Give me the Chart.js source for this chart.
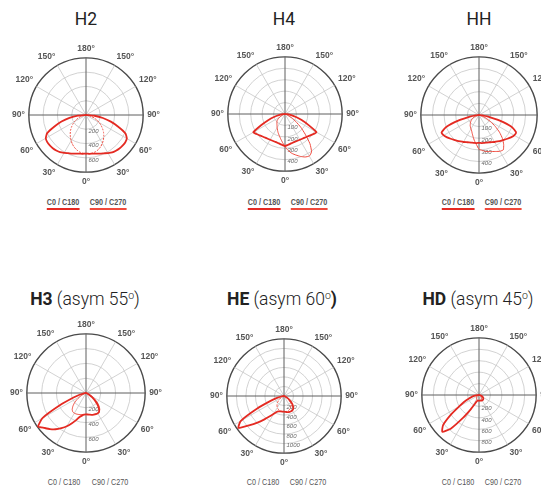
<!DOCTYPE html>
<html>
<head>
<meta charset="utf-8">
<script src="https://cdn.jsdelivr.net/npm/chart.js@4.4.0/dist/chart.umd.min.js"></script>
<style>
  html, body { margin: 0; padding: 0; background: #fff; }
  body { position: relative; width: 541px; height: 489px; overflow: hidden; font-family: Roboto, sans-serif; }
  .title { position: absolute; width: 200px; text-align: center; font-size: 17.5px; line-height: 20px; color: #222; white-space: nowrap; }
  .title b { font-weight: 700; }
  .title span { font-weight: 300; }
  .title sup { font-size: 0.6em; vertical-align: 0.6em; line-height: 0; }
  .box { position: absolute; }
  .leg { position: absolute; transform: translateX(-50%) scaleX(0.8); white-space: nowrap; line-height: 11px;
         font: bold 9px "Liberation Sans", Arial, sans-serif; color: #555; }
  .leg.lo { font-weight: normal; color: #555; }
  .leg.u0::after, .leg.u90::after { content: ""; position: absolute; left: 0; right: 0; bottom: -3px; height: 2px; }
  .leg.u0::after { background: #e42a22; }
  .leg.u90::after { background: #f04a3c; }
</style>
</head>
<body>

<div class="title" style="left:-14px;top:9px">H2</div>
<div class="title" style="left:184px;top:9px">H4</div>
<div class="title" style="left:379px;top:9px">HH</div>
<div class="title" style="left:-15px;top:289px"><b>H3</b><span> (asym 55<sup>o</sup>)</span></div>
<div class="title" style="left:182px;top:289px"><b>HE</b><span> (asym 60<sup>o</sup></span><b>)</b></div>
<div class="title" style="left:378px;top:289px"><b>HD</b><span> (asym 45<sup>o</sup>)</span></div>

<div class="leg u0" style="left:63px;top:197px">C0 / C180</div>
<div class="leg u90" style="left:108px;top:197px">C90 / C270</div>
<div class="leg u0" style="left:264px;top:197px">C0 / C180</div>
<div class="leg u90" style="left:309px;top:197px">C90 / C270</div>
<div class="leg u0" style="left:458px;top:197px">C0 / C180</div>
<div class="leg u90" style="left:503px;top:197px">C90 / C270</div>
<div class="leg lo" style="left:64px;top:477px">C0 / C180</div>
<div class="leg lo" style="left:110px;top:477px">C90 / C270</div>
<div class="leg lo" style="left:263px;top:477px">C0 / C180</div>
<div class="leg lo" style="left:308px;top:477px">C90 / C270</div>
<div class="leg lo" style="left:458px;top:477px">C0 / C180</div>
<div class="leg lo" style="left:503px;top:477px">C90 / C270</div>

<script>
// gamma angles (deg from nadir) for every value below
const gammaAngles = [0, 5, 10, 15, 20, 25, 30, 35, 40, 45, 50, 55, 60, 65, 70, 75, 80, 85, 90];

// luminous intensity, cd/klm
const h2C0   = [540, 545, 550, 560, 575, 592, 615, 640, 652, 662, 668, 670, 660, 610, 480, 360, 240, 120, 0];
const h2C180 = [540, 545, 550, 560, 575, 590, 612, 635, 648, 658, 662, 662, 650, 600, 470, 355, 235, 115, 0];
const h2C90  = [545, 545, 540, 530, 512, 488, 458, 424, 388, 348, 305, 260, 214, 168, 122, 80, 44, 16, 0];
const h2C270 = [540, 535, 525, 505, 480, 450, 416, 380, 344, 306, 266, 226, 186, 146, 106, 70, 40, 15, 0];
const h2Ticks = [200, 400, 600];

const h4C0   = [280, 272, 265, 260, 258, 258, 260, 264, 270, 278, 290, 305, 318, 225, 155, 100, 55, 20, 0];
const h4C180 = [280, 272, 265, 260, 258, 258, 260, 264, 270, 278, 290, 306, 320, 228, 157, 100, 55, 20, 0];
const h4C90  = [285, 320, 350, 372, 395, 415, 425, 405, 340, 250, 180, 115, 65, 32, 14, 5, 0, 0, 0];
const h4C270 = [285, 250, 220, 195, 175, 155, 138, 122, 110, 100, 90, 72, 52, 32, 16, 6, 0, 0, 0];
const h4Ticks = [100, 200, 300, 400];

const hhC0   = [240, 242, 244, 246, 250, 258, 268, 278, 290, 303, 318, 335, 350, 352, 300, 180, 80, 30, 0];
const hhC180 = [240, 242, 244, 246, 250, 258, 268, 278, 290, 303, 318, 335, 350, 355, 300, 180, 80, 30, 0];
const hhC90  = [295, 305, 318, 325, 334, 346, 360, 365, 330, 285, 230, 170, 115, 70, 40, 20, 8, 2, 0];
const hhC270 = [295, 255, 225, 195, 170, 150, 138, 128, 118, 105, 95, 82, 70, 55, 40, 25, 12, 4, 0];
const hhTicks = [100, 200, 300, 400];

const h3C0   = [290, 292, 298, 305, 310, 315, 318, 310, 270, 220, 160, 100, 60, 30, 15, 5, 0, 0, 0];
const h3C180 = [290, 295, 310, 335, 390, 450, 520, 580, 640, 690, 735, 790, 680, 380, 180, 90, 40, 12, 0];
const h3C90  = [290, 292, 296, 302, 308, 313, 315, 312, 290, 250, 200, 140, 90, 50, 25, 10, 3, 0, 0];
const h3C270 = [290, 292, 296, 302, 308, 313, 315, 312, 290, 250, 200, 140, 90, 50, 25, 10, 3, 0, 0];
const h3Ticks = [200, 400, 600];

const heC0   = [330, 335, 345, 350, 355, 355, 350, 335, 300, 250, 190, 130, 80, 45, 20, 8, 0, 0, 0];
const heC180 = [330, 330, 330, 335, 345, 370, 430, 520, 640, 790, 960, 1170, 1050, 620, 300, 150, 60, 20, 0];
const heC90  = [330, 330, 328, 322, 312, 298, 280, 255, 225, 190, 150, 110, 75, 45, 22, 10, 3, 0, 0];
const heC270 = [330, 330, 328, 322, 312, 298, 280, 255, 225, 190, 150, 110, 75, 45, 22, 10, 3, 0, 0];
const heTicks = [200, 400, 600, 800, 1000];

const hdC0   = [100, 100, 100, 102, 105, 108, 110, 110, 108, 104, 98, 90, 80, 66, 50, 34, 18, 6, 0];
const hdC180 = [100, 100, 100, 105, 120, 175, 290, 490, 770, 910, 820, 600, 400, 290, 200, 130, 70, 25, 0];
const hdC90  = [100, 100, 98, 96, 92, 88, 82, 76, 70, 62, 54, 45, 36, 27, 18, 10, 4, 0, 0];
const hdC270 = [100, 100, 98, 96, 92, 88, 82, 76, 70, 62, 54, 45, 36, 27, 18, 10, 4, 0, 0];
const hdTicks = [200, 400, 600, 800];

const RED = "#e42a22";
const RED_LIGHT = "#ef4b3f";
const labelFont = { family: '"Liberation Sans", Arial, sans-serif', size: 8.5, weight: "bold" };
const PAD = 4;

const charts = [
  { cx: 86, cy: 115, r: 57.3, max: 800, step: 200, ticks: h2Ticks, c0: h2C0, c180: h2C180, c90: h2C90, c270: h2C270, dash: [2, 1.2] },
  { cx: 285, cy: 114, r: 57.3, max: 500, step: 100, ticks: h4Ticks, c0: h4C0, c180: h4C180, c90: h4C90, c270: h4C270, dash: [] },
  { cx: 479, cy: 115, r: 58.5, max: 500, step: 100, ticks: hhTicks, c0: hhC0, c180: hhC180, c90: hhC90, c270: hhC270, dash: [] },
  { cx: 86, cy: 393, r: 58.8, max: 800, step: 200, ticks: h3Ticks, c0: h3C0, c180: h3C180, c90: h3C90, c270: h3C270, dash: [] },
  { cx: 284, cy: 396, r: 57.3, max: 1200, step: 200, ticks: heTicks, c0: heC0, c180: heC180, c90: heC90, c270: heC270, dash: [2.5, 1.5] },
  { cx: 479, cy: 395, r: 57.3, max: 1000, step: 200, ticks: hdTicks, c0: hdC0, c180: hdC180, c90: hdC90, c270: hdC270, dash: [] },
];

// radar goes clockwise from the top (180 deg), 5 deg per spoke
const spokeCount = 72;
const spokeLabels = [];
for (let i = 0; i < spokeCount; i++) {
  const theta = i * 5;
  const g = theta <= 180 ? 180 - theta : theta - 180;
  spokeLabels.push(theta % 30 === 0 ? g + "°" : "");
}

function buildSeries(left, right) {
  const out = [];
  for (let i = 0; i < spokeCount; i++) {
    const theta = i * 5;
    const g = theta <= 180 ? 180 - theta : theta - 180;
    const arr = theta <= 180 ? right : left;
    const k = gammaAngles.indexOf(g);
    out.push(k >= 0 ? arr[k] : 0);
  }
  return out;
}

// intensity labels along the downward axis
const tickText = {
  id: "tickText",
  beforeDatasetsDraw(chart, args, opts) {
    const sc = chart.scales.r;
    const c = chart.ctx;
    c.save();
    c.font = 'italic 6px "Liberation Sans", Arial, sans-serif';
    c.fillStyle = "#6a6a6a";
    c.textAlign = "left";
    c.textBaseline = "middle";
    opts.values.forEach((v) => {
      c.fillText(String(v), sc.xCenter + 2.5, sc.yCenter + sc.getDistanceFromCenterForValue(v) + 2);
    });
    c.restore();
  },
};

const meas = document.createElement("canvas").getContext("2d");
meas.font = "bold " + labelFont.size + "px " + labelFont.family;
const w90 = meas.measureText("90°").width;

charts.forEach((cfg) => {
  const size = 2 * Math.round(cfg.r + PAD + w90);
  const box = document.createElement("div");
  box.className = "box";
  box.style.left = cfg.cx - size / 2 + "px";
  box.style.top = cfg.cy - size / 2 + "px";
  const cv = document.createElement("canvas");
  cv.width = size;
  cv.height = size;
  box.appendChild(cv);
  document.body.appendChild(box);

  new Chart(cv, {
    type: "radar",
    data: {
      labels: spokeLabels,
      datasets: [
        {
          label: "C0 / C180",
          data: buildSeries(cfg.c180, cfg.c0),
          borderColor: RED,
          borderWidth: 1.8,
          fill: false,
        },
        {
          label: "C90 / C270",
          data: buildSeries(cfg.c270, cfg.c90),
          borderColor: RED_LIGHT,
          borderWidth: 1,
          borderDash: cfg.dash,
          fill: false,
        },
      ],
    },
    plugins: [tickText],
    options: {
      responsive: false,
      animation: false,
      events: [],
      elements: {
        point: { radius: 0 },
        line: { tension: 0.15 },
      },
      plugins: {
        legend: { display: false },
        tooltip: { enabled: false },
        tickText: { values: cfg.ticks },
      },
      scales: {
        r: {
          min: 0,
          max: cfg.max,
          ticks: { display: false, stepSize: cfg.step },
          grid: {
            circular: true,
            color: (ctx) => (ctx.tick && ctx.tick.value === cfg.max ? "#4a4a4a" : "#c6c6c6"),
            lineWidth: (ctx) => (ctx.tick && ctx.tick.value === cfg.max ? 1.4 : 0.8),
          },
          angleLines: {
            color: (ctx) => (ctx.index % 18 === 0 ? "#5e5e5e" : "#c6c6c6"),
            lineWidth: (ctx) => (ctx.index % 6 === 0 ? (ctx.index % 18 === 0 ? 1 : 0.8) : 0),
          },
          pointLabels: {
            font: labelFont,
            color: "#555",
            padding: PAD,
          },
        },
      },
    },
  });
});
</script>
</body>
</html>
